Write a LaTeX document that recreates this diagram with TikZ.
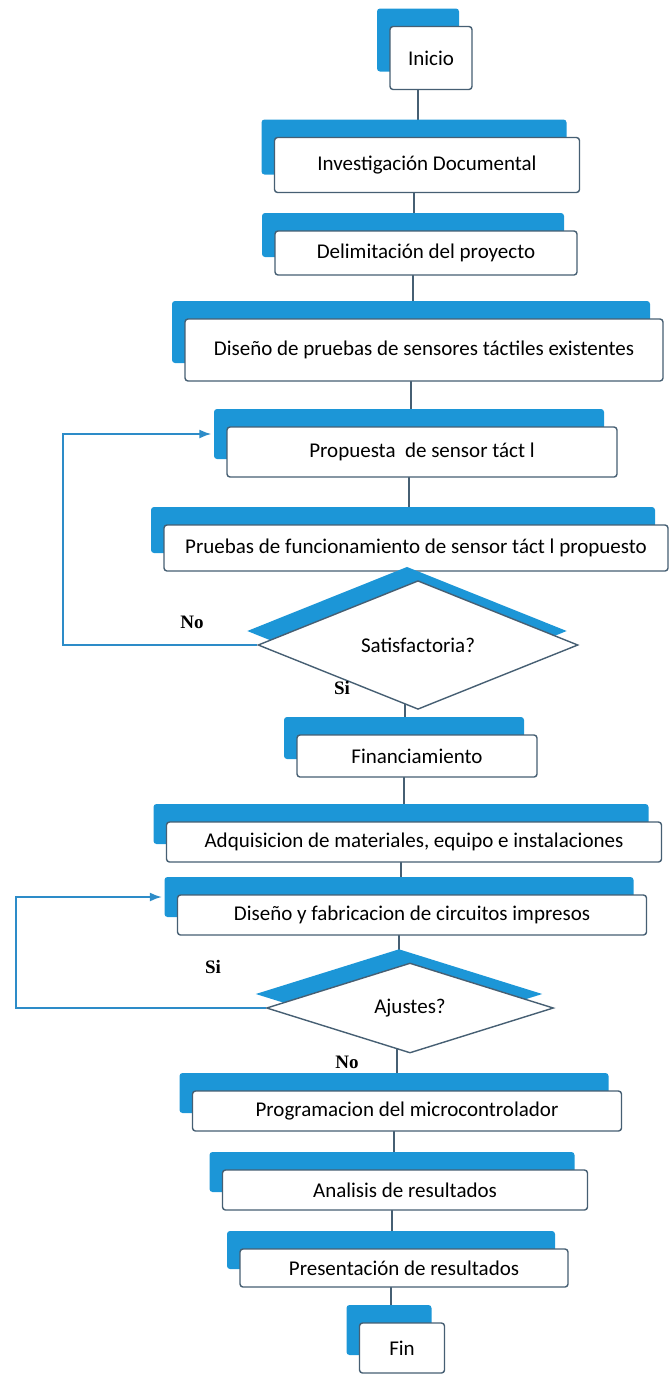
\documentclass[tikz,border=0pt]{standalone}
\usepackage{fontspec}
\setmainfont{Carlito}
\newfontfamily\answerfont{Liberation Serif}
\usetikzlibrary{shapes.geometric,shadows,arrows.meta,backgrounds}
\definecolor{flowblue}{RGB}{28,150,215}
\definecolor{boxline}{RGB}{70,95,115}
\definecolor{loopblue}{RGB}{45,140,200}
\tikzset{
  stepbox/.style={rectangle, draw=boxline, line width=1.4pt, fill=white, rounded corners=3pt,
    inner sep=0pt, font=\fontsize{21}{25}\selectfont,
    general shadow={fill=flowblue, shadow xshift=-13pt, shadow yshift=18pt}},
  askbox/.style={diamond, draw=boxline, line width=1.4pt, fill=white, inner sep=0pt,
    font=\fontsize{21}{25}\selectfont,
    general shadow={fill=flowblue, shadow xshift=-11pt, shadow yshift=14pt}},
  link/.style={draw=boxline, line width=2pt},
  back/.style={draw=loopblue, line width=1.6pt, -{Latex[length=12pt,width=9pt]}, shorten >=2pt},
  answer/.style={font=\answerfont\bfseries\fontsize{19}{22}\selectfont}
}
\begin{document}
\begin{tikzpicture}[x=1pt,y=1pt]
    \useasboundingbox (0,0) rectangle (669,-1374);

    \node[stepbox, minimum width=82pt, minimum height=63pt] (ini) at (431,-58) {Inicio};
    \node[stepbox, minimum width=305pt, minimum height=55pt] (inv) at (427,-165) {Investigación Documental};
    \node[stepbox, minimum width=302pt, minimum height=44pt] (del) at (426,-253) {Delimitación del proyecto};
    \node[stepbox, minimum width=478pt, minimum height=62pt] (dis) at (424,-350) {Diseño de pruebas de sensores táctiles existentes};
    \node[stepbox, minimum width=390pt, minimum height=50pt] (prop) at (422,-452) {Propuesta\ \ de sensor táct l};
    \node[stepbox, minimum width=504pt, minimum height=46pt] (pru) at (416,-548) {Pruebas de funcionamiento de sensor táct l propuesto};
    \node[askbox, minimum width=320pt, minimum height=90pt] (sat) at (418,-645) {Satisfactoria?};
    \node[stepbox, minimum width=240pt, minimum height=42pt] (fnc) at (417,-756) {Financiamiento};
    \node[stepbox, minimum width=495pt, minimum height=40pt] (adq) at (414,-842) {Adquisicion de materiales, equipo e instalaciones};
    \node[stepbox, minimum width=469pt, minimum height=40pt] (dyf) at (412,-915) {Diseño y fabricacion de circuitos impresos};
    \node[askbox, minimum width=287pt, minimum height=90pt] (aju) at (410,-1008) {Ajustes?};
    \node[stepbox, minimum width=429pt, minimum height=40pt] (prg) at (407,-1111) {Programacion del microcontrolador};
    \node[stepbox, minimum width=365pt, minimum height=40pt] (ana) at (405,-1190) {Analisis de resultados};
    \node[stepbox, minimum width=328pt, minimum height=38pt] (pre) at (404,-1268) {Presentación de resultados};
    \node[stepbox, minimum width=85pt, minimum height=50pt] (fin) at (402,-1348) {Fin};

    \node[answer] (no1) at (192,-622) {No};
    \node[answer] (si1) at (342,-688) {Si};
    \node[answer] (si2) at (213,-967) {Si};
    \node[answer] (no2) at (347,-1062) {No};

    \begin{pgfonlayer}{background}
    \draw[link] ([xshift=-13pt]ini.center) -- ([xshift=-13pt]ini.center |- inv.center);
    \draw[link] ([xshift=-13pt]inv.center) -- ([xshift=-13pt]inv.center |- del.center);
    \draw[link] ([xshift=-13pt]del.center) -- ([xshift=-13pt]del.center |- dis.center);
    \draw[link] ([xshift=-13pt]dis.center) -- ([xshift=-13pt]dis.center |- prop.center);
    \draw[link] ([xshift=-13pt]prop.center) -- ([xshift=-13pt]prop.center |- pru.center);
    \draw[link] ([xshift=-13pt]pru.center) -- ([xshift=-13pt]pru.center |- sat.center);
    \draw[link] ([xshift=-13pt]sat.center) -- ([xshift=-13pt]sat.center |- fnc.center);
    \draw[link] ([xshift=-13pt]fnc.center) -- ([xshift=-13pt]fnc.center |- adq.center);
    \draw[link] ([xshift=-13pt]adq.center) -- ([xshift=-13pt]adq.center |- dyf.center);
    \draw[link] ([xshift=-13pt]dyf.center) -- ([xshift=-13pt]dyf.center |- aju.center);
    \draw[link] ([xshift=-13pt]aju.center) -- ([xshift=-13pt]aju.center |- prg.center);
    \draw[link] ([xshift=-13pt]prg.center) -- ([xshift=-13pt]prg.center |- ana.center);
    \draw[link] ([xshift=-13pt]ana.center) -- ([xshift=-13pt]ana.center |- pre.center);
    \draw[link] ([xshift=-13pt]pre.center) -- ([xshift=-13pt]pre.center |- fin.center);
    \end{pgfonlayer}

    \coordinate (l1) at (63,-645);
    \coordinate (l2) at (16,-1008);
    \draw[back] (sat.west) -- (l1) |- ([shift={(-13,18)}]prop.west);
    \draw[back] (aju.west) -- (l2) |- ([shift={(-13,18)}]dyf.west);
\end{tikzpicture}
\end{document}
